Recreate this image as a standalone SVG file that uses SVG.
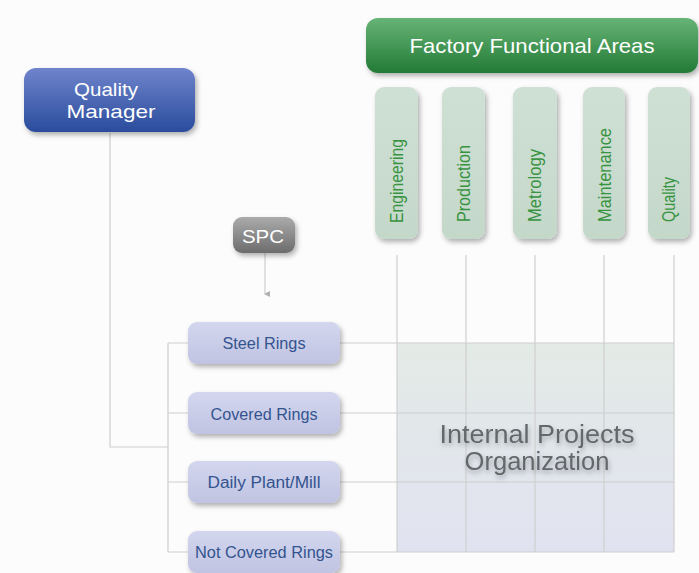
<svg xmlns="http://www.w3.org/2000/svg" width="699" height="573" viewBox="0 0 699 573">
<defs>
<linearGradient id="gBlue" x1="0" y1="0" x2="0" y2="1"><stop offset="0" stop-color="#6f84cc"/><stop offset="1" stop-color="#2a4c9c"/></linearGradient>
<linearGradient id="gGreen" x1="0" y1="0" x2="0" y2="1"><stop offset="0" stop-color="#67b476"/><stop offset="1" stop-color="#237a36"/></linearGradient>
<linearGradient id="gGray" x1="0" y1="0" x2="0" y2="1"><stop offset="0" stop-color="#ababab"/><stop offset="1" stop-color="#6c6c6c"/></linearGradient>
<linearGradient id="gLav" x1="0" y1="0" x2="0" y2="1"><stop offset="0" stop-color="#d3d6ee"/><stop offset="1" stop-color="#c0c4e2"/></linearGradient>
<linearGradient id="gSage" x1="0" y1="0" x2="0" y2="1"><stop offset="0" stop-color="#cfe0d4"/><stop offset="1" stop-color="#c4d8ca"/></linearGradient>
<linearGradient id="gGrid" x1="0" y1="0" x2="0" y2="1"><stop offset="0" stop-color="#e3ebe6"/><stop offset="1" stop-color="#e1e2f0"/></linearGradient>
<filter id="sh" x="-20%" y="-20%" width="150%" height="160%"><feDropShadow dx="2" dy="3" stdDeviation="2.5" flood-color="#000" flood-opacity="0.3"/></filter>
<filter id="tsh" x="-10%" y="-30%" width="120%" height="170%"><feDropShadow dx="1" dy="3" stdDeviation="2.5" flood-color="#000" flood-opacity="0.3"/></filter>
<marker id="arr" markerWidth="6" markerHeight="6" refX="3" refY="5" orient="auto-start-reverse" markerUnits="userSpaceOnUse" viewBox="0 0 6 6"><path d="M0,0 L6,0 L3,6 Z" fill="#b0b0b0"/></marker>
</defs>
<style>
.ln{stroke:#cdcdcd;stroke-width:1.2;fill:none}
.gl{stroke:#cfcfcf;stroke-width:1.2;fill:none}
.wt{fill:#ffffff;font-family:"Liberation Sans",Arial,sans-serif;text-anchor:middle}
.bt{fill:#34548f;font-family:"Liberation Sans",Arial,sans-serif;font-size:16px;text-anchor:middle}
.gt{fill:#379340;font-family:"Liberation Sans",Arial,sans-serif;font-size:18px}
.col{fill:url(#gSage)}
.lav{fill:url(#gLav)}
</style>
<rect x="0" y="0" width="699" height="573" fill="#fcfcfc"/>

<g id="grid">
<rect x="397" y="343" width="277" height="209" fill="url(#gGrid)"/>
<path class="gl" d="M397,255V552M466,255V552M535,255V552M604,255V552M674,255V552"/>
</g>

<g id="connectors">
<path class="ln" d="M110,133V447H168"/>
<path class="ln" d="M168,343V552"/>
<path class="ln" d="M168,343H188M168,413H188M168,482H188M168,552H188"/>
<path class="ln" d="M340,343H674M340,413H674M340,482H674M340,552H674"/>
<path class="ln" d="M265,253V294" marker-end="url(#arr)"/>
</g>

<g id="quality-manager">
<rect x="24" y="68" width="171" height="64" rx="12" fill="url(#gBlue)" filter="url(#sh)"/>
<text class="wt" x="106" y="96" font-size="19" textLength="64" lengthAdjust="spacingAndGlyphs">Quality</text>
<text class="wt" x="111" y="118" font-size="19" textLength="89" lengthAdjust="spacingAndGlyphs">Manager</text>
</g>

<g id="spc">
<rect x="233" y="217" width="62" height="36" rx="9" fill="url(#gGray)" filter="url(#sh)"/>
<text class="wt" x="263" y="243" font-size="19" textLength="42" lengthAdjust="spacingAndGlyphs">SPC</text>
</g>

<g id="factory">
<rect x="366" y="18" width="332" height="55" rx="12" fill="url(#gGreen)" filter="url(#sh)"/>
<text class="wt" x="532" y="53" font-size="21" textLength="245" lengthAdjust="spacingAndGlyphs" fill="#eef8ee">Factory Functional Areas</text>
</g>

<g id="col-engineering">
<rect class="col" x="375" y="87" width="43" height="152" rx="9" filter="url(#sh)"/>
<text class="gt" transform="translate(403,223) rotate(-90)" textLength="84" lengthAdjust="spacingAndGlyphs">Engineering</text>
</g>
<g id="col-production">
<rect class="col" x="442" y="87" width="43" height="152" rx="9" filter="url(#sh)"/>
<text class="gt" transform="translate(470,222) rotate(-90)" textLength="77" lengthAdjust="spacingAndGlyphs">Production</text>
</g>
<g id="col-metrology">
<rect class="col" x="513" y="87" width="44" height="152" rx="9" filter="url(#sh)"/>
<text class="gt" transform="translate(541,222) rotate(-90)" textLength="73" lengthAdjust="spacingAndGlyphs">Metrology</text>
</g>
<g id="col-maintenance">
<rect class="col" x="583" y="87" width="42" height="152" rx="9" filter="url(#sh)"/>
<text class="gt" transform="translate(611,222) rotate(-90)" textLength="94" lengthAdjust="spacingAndGlyphs">Maintenance</text>
</g>
<g id="col-quality">
<rect class="col" x="648" y="87" width="42" height="152" rx="9" filter="url(#sh)"/>
<text class="gt" transform="translate(675,222) rotate(-90)" textLength="45" lengthAdjust="spacingAndGlyphs">Quality</text>
</g>

<g id="steel-rings">
<rect class="lav" x="188" y="322" width="152" height="42" rx="9" filter="url(#sh)"/>
<text class="bt" x="264" y="349" textLength="83" lengthAdjust="spacingAndGlyphs">Steel Rings</text>
</g>
<g id="covered-rings">
<rect class="lav" x="188" y="392" width="152" height="42" rx="9" filter="url(#sh)"/>
<text class="bt" x="264" y="420" textLength="107" lengthAdjust="spacingAndGlyphs">Covered Rings</text>
</g>
<g id="daily-plant">
<rect class="lav" x="188" y="461" width="152" height="42" rx="9" filter="url(#sh)"/>
<text class="bt" x="264" y="488" textLength="113" lengthAdjust="spacingAndGlyphs">Daily Plant/Mill</text>
</g>
<g id="not-covered-rings">
<rect class="lav" x="188" y="531" width="152" height="42" rx="9" filter="url(#sh)"/>
<text class="bt" x="264" y="558" textLength="138" lengthAdjust="spacingAndGlyphs">Not Covered Rings</text>
</g>

<g id="internal-projects" filter="url(#tsh)">
<text x="537" y="443" font-family="'Liberation Sans',Arial,sans-serif" font-size="25" fill="#63676b" text-anchor="middle" textLength="195" lengthAdjust="spacingAndGlyphs">Internal Projects</text>
<text x="537" y="470" font-family="'Liberation Sans',Arial,sans-serif" font-size="25" fill="#63676b" text-anchor="middle" textLength="145" lengthAdjust="spacingAndGlyphs">Organization</text>
</g>
</svg>
